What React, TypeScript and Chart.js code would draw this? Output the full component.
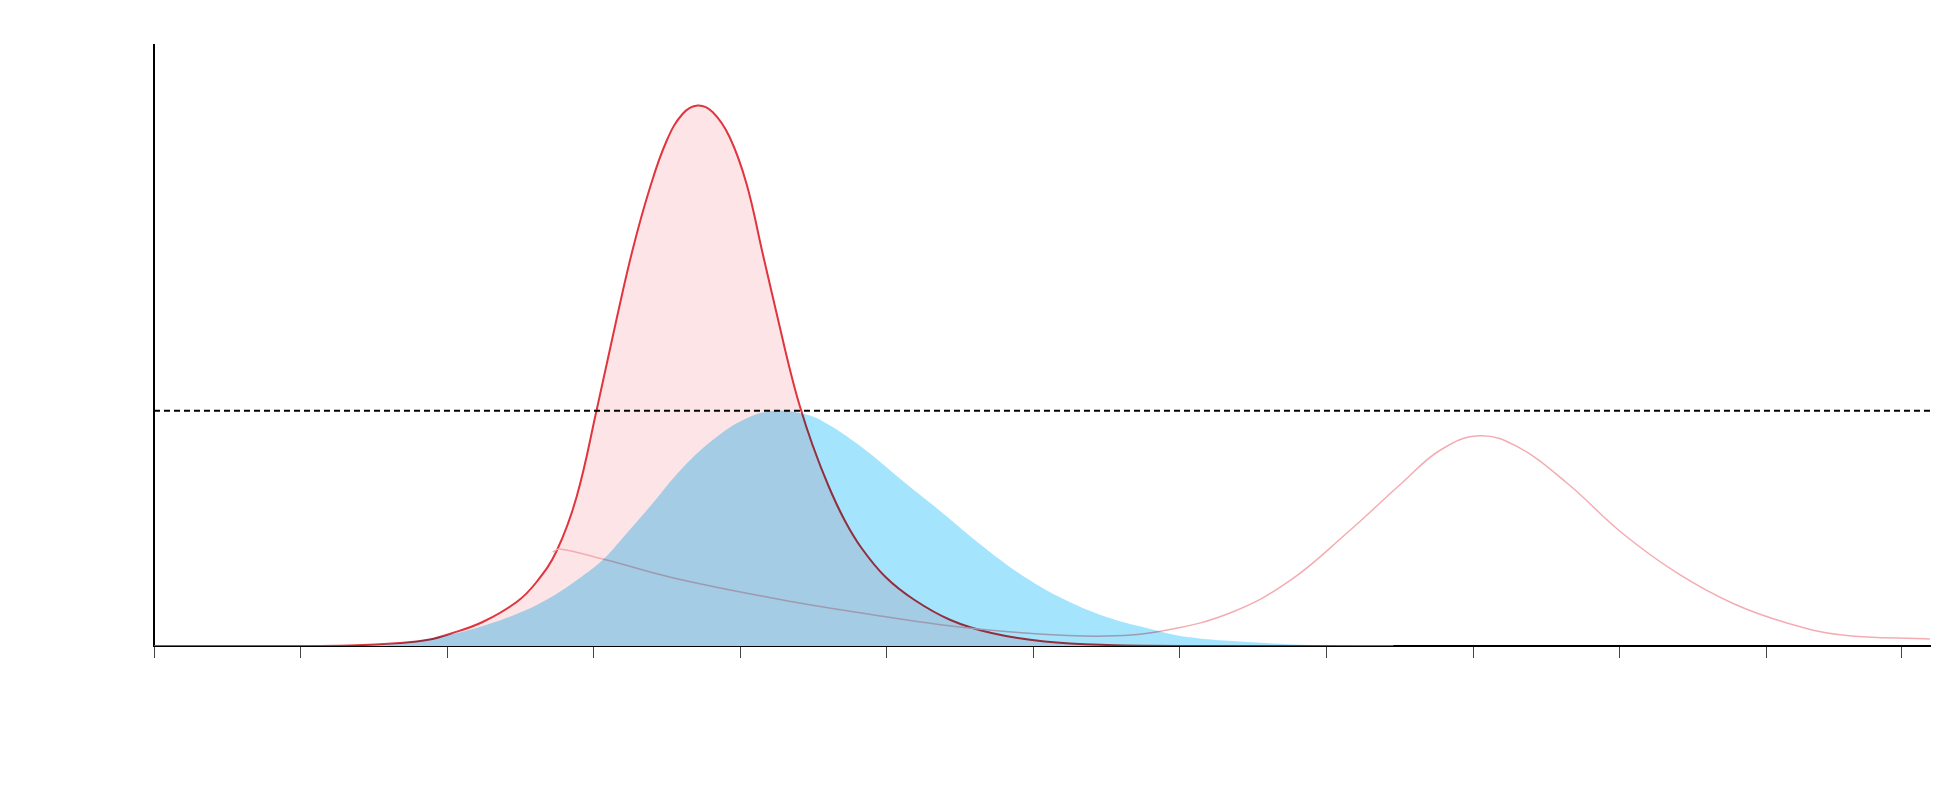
import React, { useEffect, useRef } from "react";
import {
  Chart,
  LineController,
  LineElement,
  PointElement,
  LinearScale,
  Filler,
} from "chart.js";

Chart.register(LineController, LineElement, PointElement, LinearScale, Filler);

// ---- data (x in axis units, y in % of axis height) ----
const X_MAX = 12.117;
const Y_MAX = 100;
const xTickValues = [0, 1, 2, 3, 4, 5, 6, 7, 8, 9, 10, 11, 11.92];

const capacityX = [0, X_MAX];
const capacityY = [39.15, 39.15];

const noMeasuresX = [
  0, 0.994, 1.335, 1.676, 1.881, 2.017, 2.242, 2.474, 2.61, 2.747, 2.883, 3.02,
  3.156, 3.265, 3.381, 3.497, 3.606, 3.709, 3.811, 3.927, 4.043, 4.152, 4.268,
  4.336, 4.404, 4.493, 4.602, 4.711, 4.827, 4.991, 5.189, 5.434, 5.714, 6.076,
  6.499, 7.134, 8.456,
];
const noMeasuresY = [
  0, 0, 0.08, 0.5, 1.08, 2.0, 3.99, 7.32, 10.65, 15.81, 24.79, 39.27, 54.41,
  65.89, 76.04, 84.03, 88.52, 89.93, 88.85, 84.69, 76.87, 65.39, 53.24, 46.26,
  40.1, 33.44, 26.62, 20.97, 16.31, 11.48, 7.65, 4.33, 2.16, 0.75, 0.17, 0, 0,
];

const measuresX = [
  0.994, 1.335, 1.676, 2.017, 2.242, 2.474, 2.699, 2.924, 3.061, 3.156, 3.381,
  3.606, 3.838, 4.063, 4.247, 4.404, 4.547, 4.827, 5.101, 5.38, 5.66, 5.94,
  6.219, 6.499, 6.772, 7.052, 7.468, 7.891, 8.444, X_MAX,
];
const measuresY = [
  0, 0.12, 0.5, 1.9, 3.33, 5.32, 7.99, 11.65, 14.31, 16.81, 23.13, 29.62, 34.78,
  38.1, 39.15, 38.77, 37.6, 33.11, 27.62, 22.13, 16.47, 11.48, 7.65, 4.83, 3.0,
  1.5, 0.67, 0.17, 0, 0,
];

const secondWaveX = [
  2.72, 2.767, 3.062, 3.606, 4.404, 4.827, 5.38, 5.94, 6.499, 6.914, 7.358,
  7.747, 8.139, 8.514, 8.777, 9.04, 9.302, 9.64, 10.016, 10.391, 10.766, 11.141,
  11.517, 12.117,
];
const secondWaveY = [
  15.64, 16.14, 14.48, 10.98, 7.15, 5.49, 3.49, 2.16, 1.66, 2.66, 5.66, 10.82,
  18.8, 27.12, 32.61, 34.99, 33.16, 27.12, 18.8, 12.15, 7.15, 3.83, 1.83, 1.16,
];

const toPoints = (xs: number[], ys: number[]) =>
  xs.map((x, i) => ({ x, y: ys[i] }));

const multiplyPlugin = {
  id: "multiplyBlend",
  beforeDatasetsDraw(chart: any) {
    chart.ctx.globalCompositeOperation = "source-over";
  },
  beforeDatasetDraw(chart: any, args: any) {
    if (chart.data.datasets[args.index].label === "measures") {
      chart.ctx.globalCompositeOperation = "multiply";
    }
  },
  afterDatasetDraw(chart: any, args: any) {
    const label = chart.data.datasets[args.index].label;
    if (label === "second") chart.ctx.globalCompositeOperation = "multiply";
    if (label === "measures") chart.ctx.globalCompositeOperation = "source-over";
  },
  afterDatasetsDraw(chart: any) {
    chart.ctx.globalCompositeOperation = "source-over";
  },
};

export default function App() {
  const canvasRef = useRef<HTMLCanvasElement | null>(null);

  useEffect(() => {
    if (!canvasRef.current) return;
    const chart = new Chart(canvasRef.current, {
      type: "line",
      data: {
        datasets: [
          {
            label: "capacity",
            data: toPoints(capacityX, capacityY),
            borderColor: "#000000",
            borderWidth: 2,
            borderDash: [6, 4],
            pointRadius: 0,
            fill: false,
            tension: 0,
            order: 0,
          },
          {
            label: "measures",
            data: toPoints(measuresX, measuresY),
            borderWidth: 0,
            borderColor: "rgba(0,0,0,0)",
            backgroundColor: "rgb(165,228,253)",
            pointRadius: 0,
            fill: "origin",
            tension: 0.4,
            order: 1,
          },
          {
            label: "second",
            data: toPoints(secondWaveX, secondWaveY),
            borderColor: "rgb(244,172,178)",
            borderWidth: 1.5,
            pointRadius: 0,
            fill: false,
            tension: 0.4,
            order: 2,
          },
          {
            label: "noMeasures",
            data: toPoints(noMeasuresX, noMeasuresY),
            borderColor: "rgb(224,52,62)",
            borderWidth: 2,
            backgroundColor: "rgb(253,228,230)",
            pointRadius: 0,
            fill: "origin",
            tension: 0.4,
            order: 3,
          },
        ],
      },
      options: {
        animation: false,
        responsive: true,
        maintainAspectRatio: false,
        layout: { padding: { left: 0, right: 30, top: 45, bottom: 0 } },
        scales: {
          x: {
            type: "linear",
            min: 0,
            max: X_MAX,
            afterBuildTicks: (scale: any) => {
              scale.ticks = xTickValues.map((v) => ({ value: v }));
            },
            afterFit: (scale: any) => {
              scale.height = 162;
            },
            ticks: { display: false },
            grid: {
              display: true,
              drawOnChartArea: false,
              drawTicks: true,
              tickLength: 12,
              tickColor: "#444444",
              lineWidth: 1,
            },
            border: { display: true, color: "#000000", width: 2 },
          },
          y: {
            type: "linear",
            min: 0,
            max: Y_MAX,
            afterFit: (scale: any) => {
              scale.width = 154;
            },
            ticks: { display: false },
            grid: { display: false },
            border: { display: true, color: "#000000", width: 2 },
          },
        },
      },
      plugins: [multiplyPlugin],
    });
    return () => chart.destroy();
  }, []);

  return (
    <div
      style={{
        position: "absolute",
        left: 0,
        top: 0,
        width: "1960px",
        height: "808px",
        background: "#ffffff",
      }}
    >
      <canvas ref={canvasRef} />
    </div>
  );
}
